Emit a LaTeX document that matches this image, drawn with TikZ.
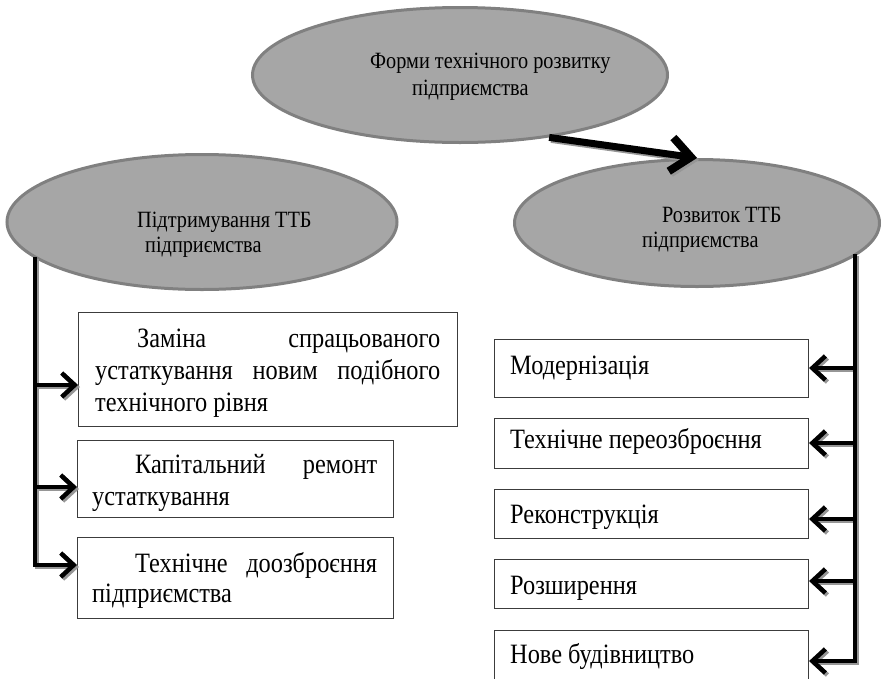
\documentclass[tikz,border=0pt]{standalone}
\usepackage{fontspec}
\setmainfont{Liberation Serif}[FakeStretch=0.87]
\usetikzlibrary{arrows.meta,shapes.geometric}
\definecolor{ellfill}{RGB}{166,166,166}
\definecolor{elldraw}{RGB}{128,128,128}
\definecolor{boxdraw}{RGB}{60,60,60}
\definecolor{shade}{RGB}{150,150,150}
\begin{document}
\begin{tikzpicture}[x=1pt,y=-1pt,
  ell/.style={ellipse,fill=ellfill,draw=elldraw,line width=3pt,inner sep=0pt},
  txt/.style={anchor=base west,inner sep=0pt,font=\fontsize{28}{32}\selectfont},
  etxt/.style={anchor=base west,inner sep=0pt,font=\fontsize{23.3}{26}\selectfont},
  box/.style={draw=boxdraw,line width=1.1pt,anchor=north west,inner sep=0pt},
  conn/.style={line width=3.8pt,-{Straight Barb[length=13pt,width=24pt,line width=4.5pt]}},
  bigconn/.style={line width=7pt,-{Straight Barb[length=20pt,width=34pt,line width=8pt]}},
  shadowed/.style={draw=shade,transform canvas={shift={(2pt,-2pt)}}},
  plain/.style={draw=black}]
\useasboundingbox (0,0) rectangle (883,678);
% ellipses
\node[ell,minimum width=415pt,minimum height=135pt] (T) at (460,75) {};
\node[ell,minimum width=390pt,minimum height=135pt] (L) at (202,222) {};
\node[ell,minimum width=365pt,minimum height=127pt] (R) at (697,223) {};
% ellipse texts
\node[etxt] (t1) at (370,68) {Форми технічного розвитку};
\node[etxt] (t2) at (412,95) {підприємства};
\node[etxt] (l1) at (137,227) {Підтримування ТТБ};
\node[etxt] (l2) at (145,252) {підприємства};
\node[etxt] (r1) at (662,222) {Розвиток ТТБ};
\node[etxt] (r2) at (642,247) {підприємства};
% left boxes
\node[box,minimum width=379pt,minimum height=114pt] (b1) at (78,312) {};
\node[box,minimum width=316pt,minimum height=77pt] (b2) at (77,440) {};
\node[box,minimum width=316pt,minimum height=81pt] (b3) at (77,537) {};
\node[txt] (b1a) at (137,347) {\makebox[303pt][s]{Заміна\hfill спрацьованого}};
\node[txt] (b1b) at (95,379) {\makebox[345pt][s]{устаткування\hfill новим\hfill подібного}};
\node[txt] (b1c) at (95,411) {технічного рівня};
\node[txt] (b2a) at (135,473) {\makebox[242pt][s]{Капітальний\hfill ремонт}};
\node[txt] (b2b) at (92,505) {устаткування};
\node[txt] (b3a) at (135,572) {\makebox[242pt][s]{Технічне\hfill доозброєння}};
\node[txt] (b3b) at (92,602) {підприємства};
% right boxes
\node[box,minimum width=314pt,minimum height=58pt] (rb1) at (494,339) {};
\node[box,minimum width=314pt,minimum height=50pt] (rb2) at (494,418) {};
\node[box,minimum width=314pt,minimum height=49pt] (rb3) at (494,489) {};
\node[box,minimum width=314pt,minimum height=49pt] (rb4) at (494,559) {};
\node[box,minimum width=314pt,minimum height=60pt] (rb5) at (494,630) {};
\node[txt] (rt1) at (510,374) {Модернізація};
\node[txt] (rt2) at (510,448) {Технічне переозброєння};
\node[txt] (rt3) at (510,523) {Реконструкція};
\node[txt] (rt4) at (510,594) {Розширення};
\node[txt] (rt5) at (510,663) {Нове будівництво};
% connectors
\coordinate (lt) at (35,257);
\coordinate (rt) at (855,254);
\foreach \s in {shadowed,plain}{
  \draw[bigconn,\s] (T.-35) -- (R.north);
  \draw[conn,\s] (lt) |- (b1.west |- 0,385);
  \draw[conn,\s] (lt) |- (b2.west |- 0,487);
  \draw[conn,\s] (lt) |- (b3.west |- 0,565);
  \draw[conn,\s] (rt) |- (rb1.east |- 0,368);
  \draw[conn,\s] (rt) |- (rb2.east |- 0,443);
  \draw[conn,\s] (rt) |- (rb3.east |- 0,519);
  \draw[conn,\s] (rt) |- (rb4.east |- 0,581);
  \draw[conn,\s] (rt) |- (rb5.east |- 0,661);
}
\end{tikzpicture}
\end{document}
